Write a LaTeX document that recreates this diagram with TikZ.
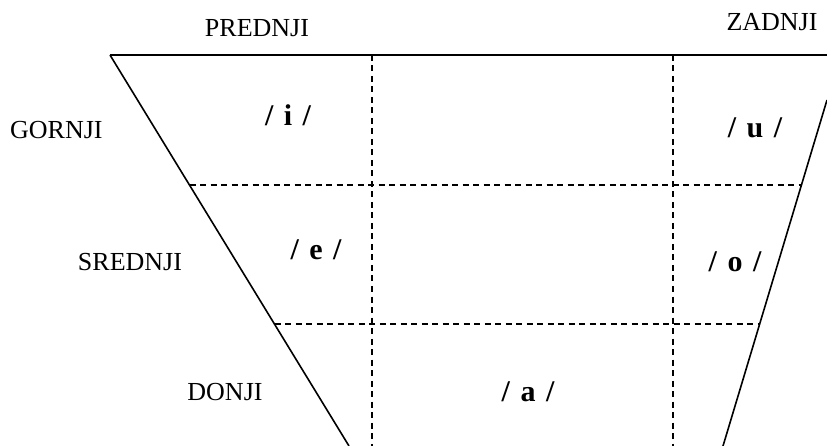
\documentclass[tikz,border=0pt]{standalone}
\usepackage{fontspec}
\setmainfont{Liberation Serif}
\begin{document}
\begin{tikzpicture}[x=1pt,y=-1pt,
  lbl/.style={inner sep=0pt,font=\fontsize{26}{29}\selectfont},
  vow/.style={inner sep=0pt,font=\fontsize{30}{33}\selectfont\bfseries},
  solidline/.style={line width=1.6pt},
  dashline/.style={line width=1.3pt,dash pattern=on 6pt off 4.5pt}]
\useasboundingbox (0,0) rectangle (827,446);
% corners
\coordinate (tl) at (110,55);
\coordinate (tr) at (827,55);
\coordinate (bl) at (349,446);
\coordinate (rt) at (827,100);
\coordinate (br) at (723,446);
\coordinate (v1t) at (372,55);
\coordinate (v1b) at (372,446);
\coordinate (v2t) at (673,55);
\coordinate (v2b) at (673,446);
\coordinate (h1l) at (189.5,185);
\coordinate (h1r) at (801.5,185);
\coordinate (h2l) at (274.5,324);
\coordinate (h2r) at (760,324);
% lines
\draw[solidline,line width=2pt] (tl) -- (tr);
\draw[solidline] (tl) -- (bl);
\draw[solidline] (rt) -- (br);
\draw[dashline] (v1t) -- (v1b);
\draw[dashline] (v2t) -- (v2b);
\draw[dashline] (h1l) -- (h1r);
\draw[dashline] (h2l) -- (h2r);
% labels
\node[lbl] (pred) at (257,28) {PREDNJI};
\node[lbl] (zad) at (772,22) {ZADNJI};
\node[lbl,anchor=west] (gor) at (10,130) {GORNJI};
\node[lbl] (sred) at (130,262) {SREDNJI};
\node[lbl] (don) at (225,392) {DONJI};
% vowels
\node[vow] (i) at (288,115) {/\hspace{0.35em}i\hspace{0.35em}/};
\node[vow] (u) at (755,128) {/\hspace{0.35em}u\hspace{0.35em}/};
\node[vow] (e) at (316,250) {/\hspace{0.35em}e\hspace{0.35em}/};
\node[vow] (o) at (735,262) {/\hspace{0.35em}o\hspace{0.35em}/};
\node[vow] (a) at (528,392) {/\hspace{0.35em}a\hspace{0.35em}/};
\end{tikzpicture}
\end{document}
